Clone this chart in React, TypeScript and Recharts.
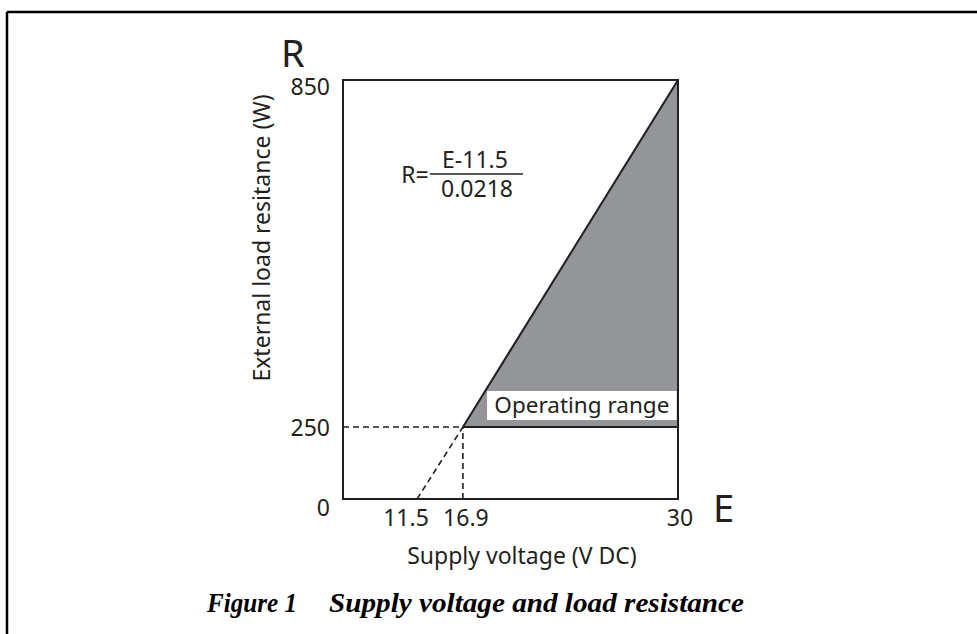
import React from "react";
import { ComposedChart, Line, Area, XAxis, YAxis, ReferenceArea } from "recharts";

// axis ticks (the drawing is schematic, not to scale)
const E_TICKS = [11.5, 16.9, 30];
const R_TICKS = [0, 250, 850];
// where each tick sits along the plot, 0..100
const E_TICK_POS = [22.1, 35.8, 100];
const R_TICK_POS = [0, 17.2, 100];

// R = (E - 11.5) / 0.0218 boundary
const LIMIT_E = [11.5, 16.9, 30];
const LIMIT_R = [0, 250, 850];
const MIN_E = 16.9;
const MIN_R = 250;

const INK = "#231f20";
const GREY = "#939598";
const SANS = "'Noto Sans', 'Open Sans', sans-serif";
const FS = 23;

const interp = (v: number, from: number[], to: number[]) => {
	let i = 0;
	while (i < from.length - 2 && v > from[i + 1]) i++;
	const t = (v - from[i]) / (from[i + 1] - from[i]);
	return to[i] + t * (to[i + 1] - to[i]);
};
const toX = (e: number) => interp(e, E_TICKS, E_TICK_POS);
const toY = (r: number) => interp(r, R_TICKS, R_TICK_POS);
const pt = (e: number, r: number) => ({ x: toX(e), y: toY(r) });

const extension = [pt(LIMIT_E[0], LIMIT_R[0]), pt(LIMIT_E[1], LIMIT_R[1])];
const boundary = [pt(LIMIT_E[1], LIMIT_R[1]), pt(LIMIT_E[2], LIMIT_R[2])];
const floor = [pt(MIN_E, MIN_R), pt(E_TICKS[2], MIN_R)];
const floorGuide = [{ x: 0, y: toY(MIN_R) }, pt(MIN_E, MIN_R)];
const eGuide = [pt(MIN_E, 0), pt(MIN_E, MIN_R)];
const region = [
	{ x: toX(MIN_E), band: [toY(MIN_R), toY(MIN_R)] },
	{ x: toX(LIMIT_E[2]), band: [toY(MIN_R), toY(LIMIT_R[2])] },
];

const X_DX = [-11, 3, 2];
const Y_DY = [9, 1, 7];

const XTick = ({ x, y, index }: any) => (
	<text x={x + X_DX[index]} y={y + 27} textAnchor="middle" fontFamily={SANS} fontSize={FS} fill={INK}>
		{E_TICKS[index]}
	</text>
);

const YTick = ({ x, y, index }: any) => (
	<text x={x} y={y + Y_DY[index] + 8} textAnchor="end" fontFamily={SANS} fontSize={FS} fill={INK}>
		{R_TICKS[index]}
	</text>
);

const lineProps = {
	type: "linear" as const,
	dataKey: "y",
	stroke: INK,
	strokeWidth: 2,
	dot: false,
	activeDot: false,
	isAnimationActive: false,
};

export default function App() {
	return (
		<div style={{ position: "absolute", left: 0, top: 0, width: 977, height: 634, background: "#fff", overflow: "hidden" }}>
			<svg width={977} height={634} style={{ position: "absolute", left: 0, top: 0 }}>
				<line x1={7} y1={12} x2={977} y2={12} stroke="#000" strokeWidth={2.5} />
				<line x1={7} y1={12} x2={7} y2={634} stroke="#000" strokeWidth={2.5} />
				<g fontFamily="'Liberation Serif', 'Times New Roman', serif" fontSize={27} fontWeight="bold" fontStyle="italic" fill="#000">
					<text x={207} y={612} textLength={90} lengthAdjust="spacingAndGlyphs">Figure 1</text>
					<text x={329} y={612} textLength={415} lengthAdjust="spacingAndGlyphs">Supply voltage and load resistance</text>
				</g>
			</svg>
			<div style={{ position: "absolute", left: 0, top: 0 }}>
				<ComposedChart width={977} height={634} margin={{ top: 80, right: 299, bottom: 95, left: 283 }}>
					<XAxis type="number" dataKey="x" domain={[0, 100]} ticks={E_TICK_POS} interval={0} allowDataOverflow axisLine={false} tickLine={false} tickSize={0} tickMargin={0} height={40} tick={XTick} />
					<YAxis type="number" dataKey="y" domain={[0, 100]} ticks={R_TICK_POS} interval={0} allowDataOverflow axisLine={false} tickLine={false} tickSize={0} tickMargin={13} width={60} tick={YTick} />
					<Area data={region} type="linear" dataKey="band" stroke="none" fill={GREY} fillOpacity={1} isAnimationActive={false} activeDot={false} />
					<ReferenceArea x1={43} x2={99.6} y1={18.85} y2={25.8} fill="#fff" fillOpacity={1} stroke="none" ifOverflow="visible"
						label={{ value: "Operating range", position: "center", fontFamily: SANS, fontSize: 22.5, fill: INK }} />
					<Line {...lineProps} data={boundary} />
					<Line {...lineProps} data={floor} />
					<Line {...lineProps} data={extension} strokeWidth={1.6} strokeDasharray="6 4" />
					<Line {...lineProps} data={floorGuide} strokeWidth={1.6} strokeDasharray="6 4" />
					<Line {...lineProps} data={eGuide} strokeWidth={1.6} strokeDasharray="6 4" />
					<ReferenceArea x1={0} x2={100} y1={0} y2={100} fill="none" stroke={INK} strokeWidth={2} ifOverflow="visible" />
				</ComposedChart>
			</div>
			<svg width={977} height={634} style={{ position: "absolute", left: 0, top: 0, pointerEvents: "none" }}>
				<g fontFamily={SANS} fill={INK}>
					<text x={281} y={67} fontSize={38}>R</text>
					<text x={713} y={522} fontSize={38}>E</text>
					<text x={522} y={564} fontSize={FS} textAnchor="middle">Supply voltage (V DC)</text>
					<text transform="translate(270 238) rotate(-90)" fontSize={FS} textAnchor="middle">External load resitance (W)</text>
					<text x={415} y={183} fontSize={FS} textAnchor="middle">R=</text>
					<text x={475} y={168} fontSize={FS} textAnchor="middle">E-11.5</text>
					<line x1={430} y1={174} x2={523} y2={174} stroke={INK} strokeWidth={1.5} />
					<text x={477} y={197} fontSize={FS} textAnchor="middle">0.0218</text>
				</g>
			</svg>
		</div>
	);
}
